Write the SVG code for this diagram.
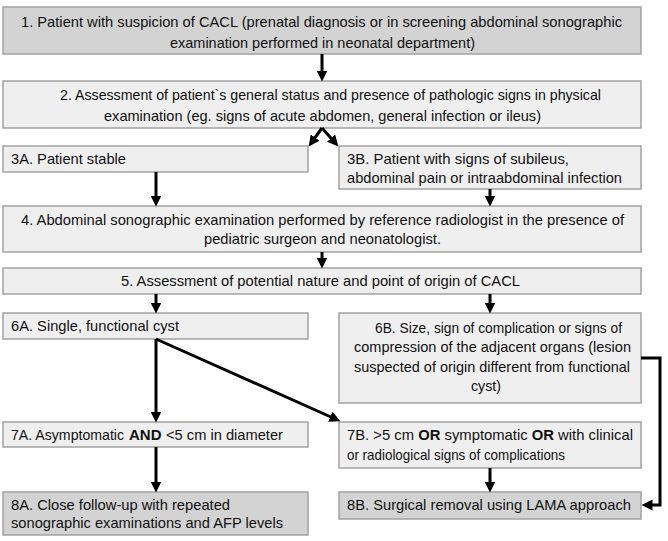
<svg xmlns="http://www.w3.org/2000/svg" width="668" height="541" viewBox="0 0 668 541">
<style>
.box{stroke:#a2a2a2;stroke-width:1.5}
.lt{fill:#efefef}
.dk{fill:#d3d3d3}
text{font-family:"Liberation Sans",Arial,sans-serif;font-size:15px;fill:#111}
.c{stroke:#000;stroke-width:3;fill:none}
.b{font-weight:bold}
</style>
<defs>
<marker id="ah" markerUnits="userSpaceOnUse" viewBox="0 0 10 10" refX="5" refY="5" markerWidth="11" markerHeight="11" orient="auto">
<path d="M0,0 L10,5 L0,10 z" fill="#000"/>
</marker>
</defs>
<rect width="668" height="541" fill="#fff"/>
<g id="n1">
<rect class="box dk" x="3" y="7" width="638" height="47"/>
<text x="21" y="27" textLength="601" lengthAdjust="spacingAndGlyphs">1. Patient with suspicion of CACL (prenatal diagnosis or in  screening abdominal sonographic</text>
<text x="170" y="48" textLength="305" lengthAdjust="spacingAndGlyphs">examination performed in neonatal department)</text>
</g>
<g id="n2">
<rect class="box lt" x="3" y="81" width="638" height="47"/>
<text x="60" y="100" textLength="541" lengthAdjust="spacingAndGlyphs">2. Assessment of patient`s general status and presence of pathologic signs in physical</text>
<text x="104" y="121" textLength="437" lengthAdjust="spacingAndGlyphs">examination (eg. signs of acute abdomen, general infection or ileus)</text>
</g>
<g id="n3A">
<rect class="box lt" x="3" y="146" width="305" height="26"/>
<text x="11" y="164" textLength="115" lengthAdjust="spacingAndGlyphs">3A. Patient stable</text>
</g>
<g id="n3B">
<rect class="box lt" x="339" y="146" width="302" height="43"/>
<text x="347" y="164" textLength="222" lengthAdjust="spacingAndGlyphs">3B. Patient with  signs of subileus,</text>
<text x="347" y="183" textLength="275" lengthAdjust="spacingAndGlyphs">abdominal pain or intraabdominal infection</text>
</g>
<g id="n4">
<rect class="box lt" x="3" y="206" width="638" height="46"/>
<text x="21" y="225" textLength="603" lengthAdjust="spacingAndGlyphs">4. Abdominal sonographic examination performed by reference radiologist in the presence of</text>
<text x="204" y="244" textLength="237" lengthAdjust="spacingAndGlyphs">pediatric surgeon and neonatologist.</text>
</g>
<g id="n5">
<rect class="box lt" x="3" y="268" width="638" height="26"/>
<text x="121" y="286" textLength="399" lengthAdjust="spacingAndGlyphs">5. Assessment of potential nature and point of origin of CACL</text>
</g>
<g id="n6A">
<rect class="box lt" x="3" y="313" width="305" height="26"/>
<text x="11" y="331" textLength="168" lengthAdjust="spacingAndGlyphs">6A. Single, functional cyst</text>
</g>
<g id="n6B">
<rect class="box lt" x="339" y="313" width="302" height="90"/>
<text x="375" y="333" textLength="247" lengthAdjust="spacingAndGlyphs">6B. Size,  sign of complication or signs of</text>
<text x="354" y="352" textLength="277" lengthAdjust="spacingAndGlyphs">compression of the adjacent organs (lesion</text>
<text x="354" y="372" textLength="276" lengthAdjust="spacingAndGlyphs">suspected of origin different from functional</text>
<text x="471" y="391" textLength="30" lengthAdjust="spacingAndGlyphs">cyst)</text>
</g>
<g id="n7A">
<rect class="box lt" x="3" y="422" width="305" height="25"/>
<text x="11" y="440" textLength="113" lengthAdjust="spacingAndGlyphs">7A. Asymptomatic</text>
<text class="b" x="129" y="440">AND</text>
<text x="166" y="440" textLength="117" lengthAdjust="spacingAndGlyphs">&lt;5 cm in diameter</text>
</g>
<g id="n7B">
<rect class="box lt" x="339" y="422" width="302" height="46"/>
<text x="347" y="440" textLength="286" lengthAdjust="spacingAndGlyphs">7B. &gt;5 cm <tspan class="b">OR</tspan> symptomatic <tspan class="b">OR</tspan> with clinical</text>
<text x="347" y="460" textLength="218" lengthAdjust="spacingAndGlyphs">or radiological signs of complications</text>
</g>
<g id="n8A">
<rect class="box dk" x="3" y="492" width="305" height="43"/>
<text x="11" y="510" textLength="219" lengthAdjust="spacingAndGlyphs">8A. Close follow-up with repeated</text>
<text x="11" y="528" textLength="272" lengthAdjust="spacingAndGlyphs">sonographic examinations and AFP levels</text>
</g>
<g id="n8B">
<rect class="box dk" x="339" y="492" width="302" height="27"/>
<text x="347" y="510" textLength="284" lengthAdjust="spacingAndGlyphs">8B. Surgical removal using LAMA approach</text>
</g>
<g id="connectors">
<path class="c" d="M322,54 V76" marker-end="url(#ah)"/>
<path class="c" d="M322,128 L311.9,142" marker-end="url(#ah)"/>
<path class="c" d="M322,128 L334.7,142.3" marker-end="url(#ah)"/>
<path class="c" d="M156,172 V201" marker-end="url(#ah)"/>
<path class="c" d="M490,189 V201" marker-end="url(#ah)"/>
<path class="c" d="M322,252 V263" marker-end="url(#ah)"/>
<path class="c" d="M156,294 V308" marker-end="url(#ah)"/>
<path class="c" d="M490,294 V308" marker-end="url(#ah)"/>
<path class="c" d="M156,339 V417" marker-end="url(#ah)"/>
<path class="c" d="M156,339 L335.4,419" marker-end="url(#ah)"/>
<path class="c" d="M156,447 V487" marker-end="url(#ah)"/>
<path class="c" d="M490,468 V487" marker-end="url(#ah)"/>
<path class="c" d="M641,358 H660 V505 H647" marker-end="url(#ah)"/>
</g>
</svg>
